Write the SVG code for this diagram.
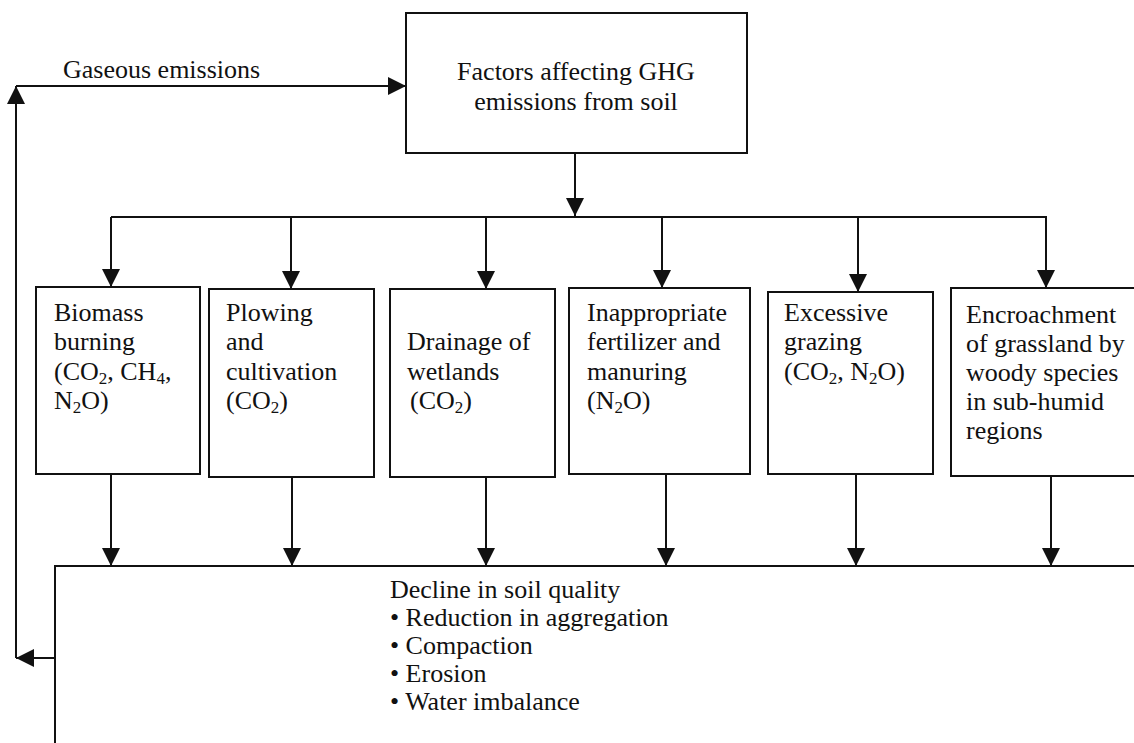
<svg xmlns="http://www.w3.org/2000/svg" width="1134" height="743" viewBox="0 0 1134 743">
<defs>
<marker id="ah" markerUnits="userSpaceOnUse" markerWidth="18" markerHeight="18" refX="18" refY="9" orient="auto">
<path d="M0,0 L18,9 L0,18 z" fill="#111"/>
</marker>
<style>
.box{fill:#fff;stroke:#111;stroke-width:2}
.ln{fill:none;stroke:#111;stroke-width:2}
.ar{fill:none;stroke:#111;stroke-width:2;marker-end:url(#ah)}
text{font-family:"Liberation Serif","Times New Roman",serif;font-size:26px;fill:#111}
.sub{font-size:17px}
</style>
</defs>
<rect width="1134" height="743" fill="#fff"/>

<g id="connectors">
<path class="ar" d="M55,658 L16,658"/>
<path class="ar" d="M16,658 L16,86"/>
<path class="ar" d="M16,86 L406,86"/>
<text id="label-gaseous" x="63" y="78">Gaseous emissions</text>
<path class="ar" d="M575,153 L575,216"/>
<path class="ln" d="M111,217 L1047,217"/>
<path class="ar" d="M111,217 L111,287"/>
<path class="ar" d="M291,217 L291,289"/>
<path class="ar" d="M486,217 L486,289"/>
<path class="ar" d="M662,217 L662,288"/>
<path class="ar" d="M858,217 L858,292"/>
<path class="ar" d="M1046,217 L1046,288"/>
<path class="ar" d="M111,474 L111,566"/>
<path class="ar" d="M292,477 L292,566"/>
<path class="ar" d="M486,477 L486,566"/>
<path class="ar" d="M666,474 L666,566"/>
<path class="ar" d="M856,474 L856,566"/>
<path class="ar" d="M1051,476 L1051,566"/>
</g>

<g id="node-factors">
<rect class="box" x="406" y="13" width="341" height="140"/>
<text x="576" y="80" text-anchor="middle">Factors affecting GHG</text>
<text x="576" y="110" text-anchor="middle">emissions from soil</text>
</g>

<g id="node-biomass">
<rect class="box" x="36" y="287" width="164" height="187"/>
<text x="54" y="321">Biomass</text>
<text x="54" y="350">burning</text>
<text x="54" y="380">(CO<tspan class="sub" dy="4">2</tspan><tspan dy="-4">, CH</tspan><tspan class="sub" dy="4">4</tspan><tspan dy="-4">,</tspan></text>
<text x="54" y="409">N<tspan class="sub" dy="4">2</tspan><tspan dy="-4">O)</tspan></text>
</g>

<g id="node-plowing">
<rect class="box" x="209" y="289" width="165" height="188"/>
<text x="226" y="321">Plowing</text>
<text x="226" y="350">and</text>
<text x="226" y="380">cultivation</text>
<text x="226" y="409">(CO<tspan class="sub" dy="4">2</tspan><tspan dy="-4">)</tspan></text>
</g>

<g id="node-drainage">
<rect class="box" x="390" y="289" width="165" height="188"/>
<text x="407" y="350">Drainage of</text>
<text x="407" y="380">wetlands</text>
<text x="410" y="409">(CO<tspan class="sub" dy="4">2</tspan><tspan dy="-4">)</tspan></text>
</g>

<g id="node-fertilizer">
<rect class="box" x="569" y="288" width="181" height="186"/>
<text x="587" y="321">Inappropriate</text>
<text x="587" y="350">fertilizer and</text>
<text x="587" y="380">manuring</text>
<text x="587" y="409">(N<tspan class="sub" dy="4">2</tspan><tspan dy="-4">O)</tspan></text>
</g>

<g id="node-grazing">
<rect class="box" x="768" y="292" width="165" height="182"/>
<text x="784" y="321">Excessive</text>
<text x="784" y="350">grazing</text>
<text x="784" y="380">(CO<tspan class="sub" dy="4">2</tspan><tspan dy="-4">, N</tspan><tspan class="sub" dy="4">2</tspan><tspan dy="-4">O)</tspan></text>
</g>

<g id="node-encroachment">
<rect class="box" x="951" y="288" width="200" height="188"/>
<text x="966" y="323">Encroachment</text>
<text x="966" y="352">of grassland by</text>
<text x="966" y="381">woody species</text>
<text x="966" y="410">in sub-humid</text>
<text x="966" y="439">regions</text>
</g>

<g id="node-decline">
<rect class="box" x="55" y="566" width="1100" height="200"/>
<text x="390" y="598">Decline in soil quality</text>
<text x="390" y="626">• Reduction in aggregation</text>
<text x="390" y="654">• Compaction</text>
<text x="390" y="682">• Erosion</text>
<text x="390" y="710">• Water imbalance</text>
</g>
</svg>
